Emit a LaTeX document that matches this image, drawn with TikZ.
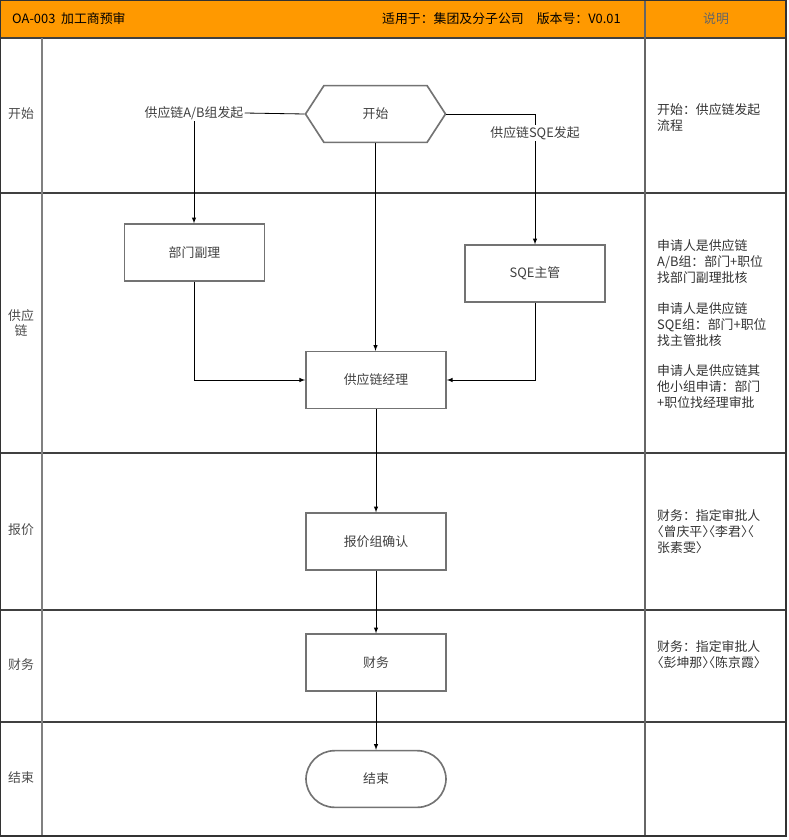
\documentclass[tikz,border=0pt]{standalone}
\usepackage{fontspec}
\setmainfont{Noto Sans CJK SC}
\newfontfamily\halfpunct[RawFeature=+halt]{Noto Sans CJK SC}
\usetikzlibrary{shapes.symbols}
\definecolor{hdrorange}{RGB}{255,153,0}

\begin{document}
\begin{tikzpicture}[x=0.03cm,y=-0.03cm,>=latex,
  font=\fontsize{11}{13.4}\selectfont,
  box/.style={draw=black!55,line width=1.4pt,minimum width=4.2cm,minimum height=1.7cm,inner sep=0pt,text=black!75},
  start/.style={box,shape=signal,signal to=east and west,signal pointer angle=114},
  tag/.style={fill=white,inner sep=1pt,text=black!75},
  lane/.style={text=black!70,align=center,inner sep=0pt},
  note/.style={anchor=base west,align=left,inner sep=0pt,text=black!80},
  flow/.style={->,black,line width=0.7pt},
  link/.style={black,line width=0.7pt},
  rowline/.style={black!75,line width=1.4pt}]
\useasboundingbox (0,0) rectangle (789,840);

%frame
\fill[hdrorange] (0,0) rectangle (786,38);
\draw[rowline] (0,38) -- (786,38);
\draw[rowline] (0,193) -- (786,193);
\draw[rowline] (0,453) -- (786,453);
\draw[rowline] (0,610) -- (786,610);
\draw[rowline] (0,722) -- (786,722);
\draw[black!50,line width=1.4pt] (42,38) -- (42,836);
\draw[black!60,line width=1.4pt] (645,0) -- (645,836);
\draw[black!80,line width=1.8pt] (0,0) rectangle (786,836);

%header
\node[anchor=west,inner sep=0pt] (title) at (12,19) {OA-003\ \ 加工商预审};
\node[anchor=east,inner sep=0pt] (version) at (621,19) {适用于：集团及分子公司\quad 版本号：V0.01};
\node[text=black!60] (shuoming) at (716,19) {说明};

%lanes
\node[lane] (lkaishi) at (21,114) {开始};
\node[lane] (lgongying) at (21,323) {供应\\链};
\node[lane] (lbaojia) at (21,530) {报价};
\node[lane] (lcaiwu) at (21,665) {财务};
\node[lane] (ljieshu) at (21,778) {结束};

%element
\node[start] (kaishi) at (375.5,114) {开始};
\node[box] (fuli) at (194.5,252.5) {部门副理};
\node[box] (zhuguan) at (535,273.5) {SQE主管};
\node[box] (jingli) at (376,380) {供应链经理};
\node[box] (queren) at (376,541.5) {报价组确认};
\node[box] (caiwu) at (376,662.5) {财务};
\node[box,rounded corners=0.86cm] (jieshu) at (376,779) {结束};

%connectors
\draw[link] (kaishi.east) -| (535,128);
\node[tag] (abtag) at (194,113) {供应链A/B组发起};
\node[tag] (sqetag) at (535,133) {供应链SQE发起};
\draw[link] (kaishi.west) -- (abtag.east);
\draw[flow] (abtag.south) -- (abtag.south |- fuli.north);
\draw[flow] (sqetag.south) -- (sqetag.south |- zhuguan.north);
\draw[flow] (kaishi.south) -- (kaishi.south |- jingli.north);
\draw[flow] (fuli.south) |- (jingli.west);
\draw[flow] (zhuguan.south) |- (jingli.east);
\draw[flow] (jingli.south) -- (queren.north);
\draw[flow] (queren.south) -- (caiwu.north);
\draw[flow] (caiwu.south) -- (jieshu.north);

%notes
\node[note] (n1) at (657,130) {开始：供应链发起\\流程};
\node[note] (n2a) at (657,282) {申请人是供应链\\A/B组：部门+职位\\找部门副理批核};
\node[note] (n2b) at (657,345) {申请人是供应链\\SQE组：部门+职位\\找主管批核};
\node[note] (n2c) at (657,407) {申请人是供应链其\\他小组申请：部门\\+职位找经理审批};
\node[note] (n3) at (657,552) {财务：指定审批人\\{\halfpunct 〈曾庆平〉〈李君〉〈}\\{\halfpunct 张素雯〉}};
\node[note] (n4) at (657,667) {财务：指定审批人\\{\halfpunct 〈彭坤那〉〈陈京霞〉}};
\end{tikzpicture}
\end{document}
